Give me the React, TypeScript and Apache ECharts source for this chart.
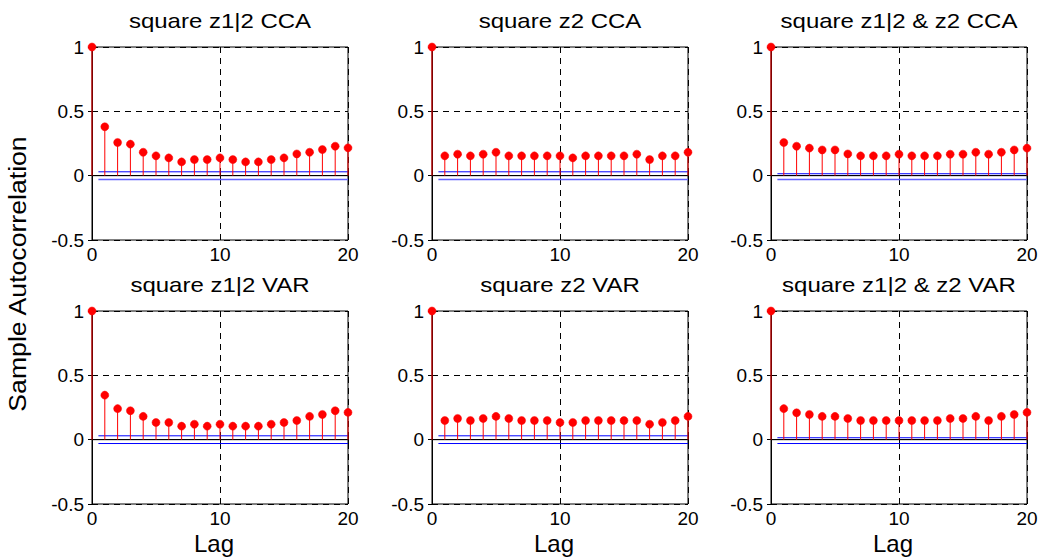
import React, { useEffect, useRef } from "react";
import * as echarts from "echarts";

// ---- data ----
const LAGS = [0, 1, 2, 3, 4, 5, 6, 7, 8, 9, 10, 11, 12, 13, 14, 15, 16, 17, 18, 19, 20];
const TITLES = [
  "square z1|2 CCA",
  "square z2 CCA",
  "square z1|2 & z2 CCA",
  "square z1|2 VAR",
  "square z2 VAR",
  "square z1|2 & z2 VAR",
];
const ACF_Z12_CCA = [1, 0.38, 0.258, 0.245, 0.182, 0.154, 0.138, 0.107, 0.125, 0.125, 0.138, 0.125, 0.107, 0.107, 0.125, 0.138, 0.169, 0.182, 0.203, 0.229, 0.216];
const ACF_Z2_CCA = [1, 0.154, 0.167, 0.154, 0.167, 0.182, 0.154, 0.154, 0.154, 0.154, 0.154, 0.138, 0.154, 0.154, 0.154, 0.154, 0.167, 0.125, 0.154, 0.154, 0.182];
const ACF_BOTH_CCA = [1, 0.258, 0.229, 0.214, 0.2, 0.2, 0.169, 0.154, 0.154, 0.154, 0.167, 0.154, 0.154, 0.154, 0.167, 0.167, 0.182, 0.167, 0.182, 0.2, 0.214];
const ACF_Z12_VAR = [1, 0.346, 0.241, 0.225, 0.181, 0.134, 0.134, 0.105, 0.12, 0.105, 0.12, 0.105, 0.105, 0.105, 0.12, 0.134, 0.149, 0.181, 0.196, 0.225, 0.212];
const ACF_Z2_VAR = [1, 0.149, 0.165, 0.149, 0.165, 0.181, 0.165, 0.149, 0.149, 0.149, 0.134, 0.134, 0.149, 0.149, 0.149, 0.149, 0.149, 0.12, 0.134, 0.149, 0.181];
const ACF_BOTH_VAR = [1, 0.241, 0.209, 0.196, 0.181, 0.181, 0.165, 0.149, 0.149, 0.149, 0.149, 0.149, 0.149, 0.149, 0.165, 0.165, 0.181, 0.149, 0.181, 0.196, 0.212];
const UPPER_BOUNDS = [0.03, 0.03, 0.015, 0.03, 0.03, 0.015];
const LOWER_BOUNDS = [-0.03, -0.03, -0.03, -0.03, -0.03, -0.03];
const BOUND_START_LAG = 0.5;
const X_MIN = 0;
const X_MAX = 20;
const X_STEP = 10;
const Y_MIN = -0.5;
const Y_MAX = 1;
const Y_STEP = 0.5;
const Y_LABEL = "Sample Autocorrelation";
const X_LABEL = "Lag";

const SERIES = [ACF_Z12_CCA, ACF_Z2_CCA, ACF_BOTH_CCA, ACF_Z12_VAR, ACF_Z2_VAR, ACF_BOTH_VAR];

// ---- layout ----
const PANEL_LEFTS = [92, 432, 771];
const PANEL_TOPS = [47, 311];
const PANEL_W = 256;
const PANEL_H = 193;
const FONT = "'Liberation Sans', Arial, Helvetica, sans-serif";

function buildOption() {
  const grid: any[] = [];
  const xAxis: any[] = [];
  const yAxis: any[] = [];
  const series: any[] = [];
  const graphic: any[] = [];
  const dash = { type: [6, 5], color: "#000", width: 1 };

  SERIES.forEach((vals, i) => {
    const row = Math.floor(i / 3);
    const col = i % 3;
    const left = PANEL_LEFTS[col];
    const top = PANEL_TOPS[row];
    grid.push({
      left,
      top,
      width: PANEL_W,
      height: PANEL_H,
      show: true,
      borderColor: "#000",
      borderWidth: 1,
      backgroundColor: "#fff",
      containLabel: false,
    });
    const common = {
      type: "value",
      gridIndex: i,
      min: X_MIN,
      max: X_MAX,
      interval: X_STEP,
    };
    xAxis.push({
      ...common,
      position: "bottom",
      axisLine: { show: true, lineStyle: { color: "#000", width: 1 } },
      axisTick: { show: true, inside: true, length: 4, lineStyle: { color: "#000" } },
      axisLabel: { show: true, color: "#000", fontSize: 19, fontFamily: FONT, margin: 5 },
      splitLine: { show: true, lineStyle: dash },
    });
    xAxis.push({
      ...common,
      position: "top",
      axisLine: { show: true, lineStyle: { color: "#000", width: 1 } },
      axisTick: { show: true, inside: true, length: 4, lineStyle: { color: "#000" } },
      axisLabel: { show: false },
      splitLine: { show: false },
    });
    const ycommon = {
      type: "value",
      gridIndex: i,
      min: Y_MIN,
      max: Y_MAX,
      interval: Y_STEP,
    };
    yAxis.push({
      ...ycommon,
      position: "left",
      axisLine: { show: true, lineStyle: { color: "#000", width: 1 } },
      axisTick: { show: true, inside: true, length: 4, lineStyle: { color: "#000" } },
      axisLabel: { show: true, color: "#000", fontSize: 19, fontFamily: FONT, margin: 8 },
      splitLine: { show: true, lineStyle: dash },
    });
    yAxis.push({
      ...ycommon,
      position: "right",
      axisLine: { show: true, lineStyle: { color: "#000", width: 1 } },
      axisTick: { show: true, inside: true, length: 4, lineStyle: { color: "#000" } },
      axisLabel: { show: false },
      splitLine: { show: false },
    });

    const xi = 2 * i;
    const yi = 2 * i;
    // zero baseline
    series.push({
      type: "line",
      xAxisIndex: xi,
      yAxisIndex: yi,
      data: [
        [X_MIN, 0],
        [X_MAX, 0],
      ],
      symbol: "none",
      lineStyle: { color: "#000", width: 1 },
      z: 2,
      silent: true,
    });
    // confidence bounds
    series.push({
      type: "line",
      xAxisIndex: xi,
      yAxisIndex: yi,
      data: [
        [BOUND_START_LAG, UPPER_BOUNDS[i]],
        [X_MAX, UPPER_BOUNDS[i]],
      ],
      symbol: "none",
      lineStyle: { color: "#0000ff", width: 1 },
      z: 3,
      silent: true,
    });
    series.push({
      type: "line",
      xAxisIndex: xi,
      yAxisIndex: yi,
      data: [
        [BOUND_START_LAG, LOWER_BOUNDS[i]],
        [X_MAX, LOWER_BOUNDS[i]],
      ],
      symbol: "none",
      lineStyle: row === 0 ? { color: "#6060ff", width: 1.6 } : { color: "#0000ff", width: 1 },
      z: 3,
      silent: true,
    });
    // stems
    series.push({
      type: "custom",
      xAxisIndex: xi,
      yAxisIndex: yi,
      clip: false,
      z: 4,
      data: LAGS.map((l, k) => [l, vals[k]]),
      renderItem: (_params: any, api: any) => {
        const x = api.value(0);
        const y = api.value(1);
        const p0 = api.coord([x, 0]);
        const p1 = api.coord([x, y]);
        return {
          type: "group",
          children: [
            {
              type: "line",
              shape: { x1: p0[0], y1: p0[1], x2: p1[0], y2: p1[1] },
              style: { stroke: "#ff0000", lineWidth: 1 },
            },
            {
              type: "circle",
              shape: { cx: p1[0], cy: p1[1], r: 4 },
              style: { fill: "#ff0000", stroke: "#ff0000", lineWidth: 0.5 },
            },
          ],
        };
      },
    });

    graphic.push({
      type: "text",
      x: left + PANEL_W / 2,
      y: top - 26,
      scaleX: 1.2,
      originX: 0,
      originY: 0,
      style: {
        text: TITLES[i],
        fill: "#000",
        font: `20px ${FONT}`,
        fontSize: 20,
        fontFamily: FONT,
        align: "center",
        textAlign: "center",
        verticalAlign: "middle",
        textVerticalAlign: "middle",
      },
    });
    if (row === 1) {
      graphic.push({
        type: "text",
        x: left + PANEL_W / 2 - 6,
        y: 543,
        style: {
          text: X_LABEL,
          fill: "#000",
          font: `24px ${FONT}`,
          fontSize: 24,
          fontFamily: FONT,
          align: "center",
          textAlign: "center",
          verticalAlign: "middle",
          textVerticalAlign: "middle",
        },
      });
    }
  });

  graphic.push({
    type: "text",
    x: 17,
    y: 274,
    rotation: Math.PI / 2,
    scaleX: 1.11,
    originX: 0,
    originY: 0,
    style: {
      text: Y_LABEL,
      fill: "#000",
      font: `24px ${FONT}`,
      fontSize: 24,
      fontFamily: FONT,
      align: "center",
      textAlign: "center",
      verticalAlign: "middle",
      textVerticalAlign: "middle",
    },
  });

  return {
    animation: false,
    backgroundColor: "#fff",
    grid,
    xAxis,
    yAxis,
    series,
    graphic,
  };
}

export default function App() {
  const ref = useRef<HTMLDivElement>(null);
  useEffect(() => {
    if (!ref.current) return;
    const chart = echarts.init(ref.current, undefined, { renderer: "svg" });
    chart.setOption(buildOption() as any);
    return () => chart.dispose();
  }, []);
  return (
    <div
      ref={ref}
      style={{ position: "absolute", left: 0, top: 0, width: 1044, height: 559, background: "#fff" }}
    />
  );
}
